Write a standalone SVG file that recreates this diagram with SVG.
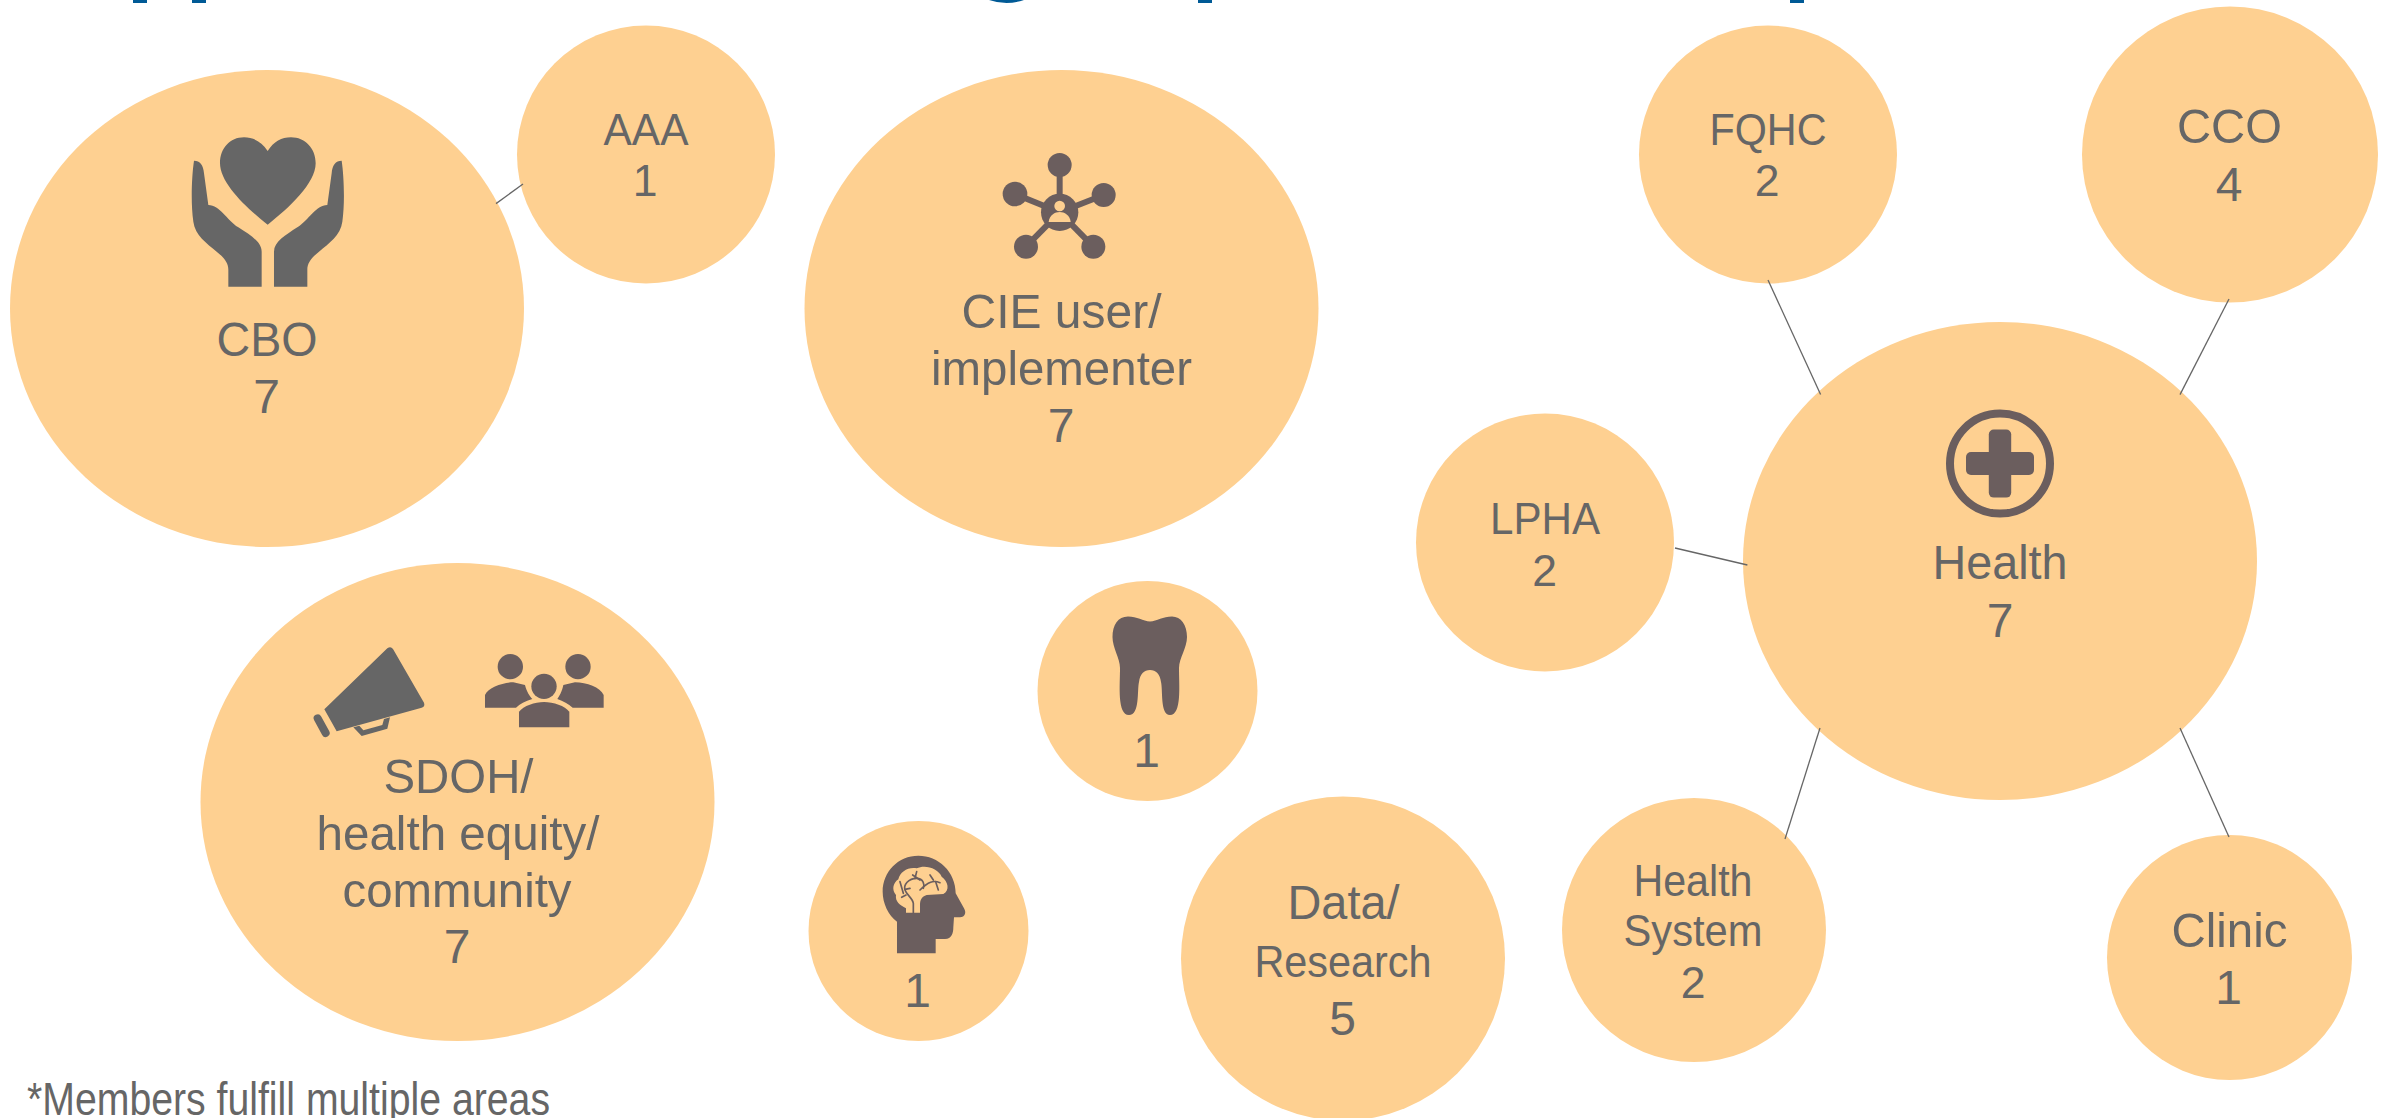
<svg xmlns="http://www.w3.org/2000/svg" width="2392" height="1118" viewBox="0 0 2392 1118">
<style>
.n{fill:#FED091}
text{font-family:"Liberation Sans",Arial,sans-serif;fill:#666666;text-anchor:middle}
.b{font-size:49px}
.d{font-size:48px}
.s{font-size:44.500px}
.f{font-size:46px}
.g{fill:#666666}
.br{fill:#6B5E5E}
.c{fill:#FED091}
.ln{stroke:#666666;stroke-width:1.300;fill:none}
</style>
<rect width="2392" height="1118" fill="#FFFFFF"/>
<g id="title-clip" fill="#005A96">
<rect x="133" y="0" width="14" height="3"/>
<rect x="192" y="0" width="14" height="3"/>
<path d="M989,0 Q1006.500,6 1024,0 Z"/>
<rect x="1198" y="0" width="14" height="3"/>
<rect x="1790" y="0" width="14" height="3"/>
</g>
<g id="node-cbo">
<ellipse class="n" cx="267" cy="308.500" rx="257" ry="238.500"/>
<g transform="translate(170,120) scale(0.33333)" class="g">
<path d="M293,93 C275,65 250,52 222,52 C180,52 150,85 150,130 C150,190 230,265 293,314 C356,265 437,190 437,130 C437,85 405,52 363,52 C335,52 311,65 293,93 Z"/>
<path d="M72,122 C65,170 62,250 70,305 C75,345 110,370 140,395 C165,415 175,430 175,450 L175,500 L275,500 L275,395 C275,365 240,345 205,322 C170,300 150,255 115,255 L102,160 C100,135 90,122 72,122 Z"/>
<path d="M515,122 C522,170 525,250 517,305 C512,345 477,370 447,395 C422,415 412,430 412,450 L412,500 L312,500 L312,395 C312,365 347,345 382,322 C417,300 437,255 472,255 L485,160 C487,135 497,122 515,122 Z"/>
</g>
<text class="b" x="267" y="356" textLength="101" lengthAdjust="spacingAndGlyphs">CBO</text>
<text class="d" x="266.500" y="412.500">7</text>
</g>
<g id="node-aaa">
<circle class="n" cx="646" cy="154.500" r="129"/>
<text class="s" x="646" y="144.600" textLength="85" lengthAdjust="spacingAndGlyphs">AAA</text>
<text class="s" x="645" y="195.700">1</text>
</g>
<g id="node-cie">
<ellipse class="n" cx="1061.500" cy="308.500" rx="257" ry="238.500"/>
<g transform="translate(990,140) scale(0.33333)" class="br">
<g stroke="#6B5E5E" stroke-width="18">
<line x1="209" y1="217" x2="209" y2="75"/>
<line x1="209" y1="217" x2="75" y2="162"/>
<line x1="209" y1="217" x2="341" y2="165"/>
<line x1="209" y1="217" x2="108" y2="320"/>
<line x1="209" y1="217" x2="310" y2="320"/>
</g>
<circle cx="209" cy="217" r="56"/>
<circle cx="209" cy="75" r="36"/>
<circle cx="75" cy="162" r="37"/>
<circle cx="341" cy="165" r="36"/>
<circle cx="108" cy="320" r="36"/>
<circle cx="310" cy="320" r="36"/>
<circle class="c" cx="209" cy="198" r="16"/>
<path class="c" d="M176,246 C178,225 195,216 209,216 C223,216 240,225 242,246 Z"/>
</g>
<text class="b" x="1061.500" y="327.500" textLength="200" lengthAdjust="spacingAndGlyphs">CIE user/</text>
<text class="b" x="1061.500" y="384.500" textLength="261" lengthAdjust="spacingAndGlyphs">implementer</text>
<text class="d" x="1061" y="442">7</text>
</g>
<g id="node-fqhc">
<circle class="n" cx="1768" cy="154.500" r="129"/>
<text class="s" x="1768" y="144.600" textLength="117" lengthAdjust="spacingAndGlyphs">FQHC</text>
<text class="s" x="1767" y="195.700">2</text>
</g>
<g id="node-cco">
<circle class="n" cx="2230" cy="154.500" r="148"/>
<text class="b" x="2229.500" y="143" textLength="105" lengthAdjust="spacingAndGlyphs">CCO</text>
<text class="d" x="2229" y="200.700">4</text>
</g>
<g id="node-health">
<ellipse class="n" cx="2000" cy="561" rx="257" ry="239"/>
<g class="br">
<circle cx="2000" cy="463.600" r="50" fill="none" stroke="#6B5E5E" stroke-width="8"/>
<rect x="1988.800" y="429.600" width="22.400" height="68" rx="5"/>
<rect x="1966" y="452" width="68" height="23" rx="5"/>
</g>
<text class="b" x="2000" y="578.700" textLength="135" lengthAdjust="spacingAndGlyphs">Health</text>
<text class="d" x="2000" y="636.600">7</text>
</g>
<g id="node-lpha">
<circle class="n" cx="1545" cy="542.500" r="129"/>
<text class="s" x="1545" y="533.500" textLength="110" lengthAdjust="spacingAndGlyphs">LPHA</text>
<text class="s" x="1544.500" y="585.500">2</text>
</g>
<g id="node-sdoh">
<ellipse class="n" cx="457.500" cy="802" rx="257" ry="239"/>
<g transform="translate(300,630) scale(0.33333)">
<g class="g">
<path d="M73,238 L262,55 Q272,47 279,57 L372,218 Q376,230 365,233 L110,304 Z"/>
<path fill-rule="evenodd" d="M160,292 L185,318 L262,296 L270,262 L252,267 L247,285 L190,301 L178,287 Z"/>
<line x1="53" y1="265" x2="77" y2="309" stroke="#666666" stroke-width="24" stroke-linecap="round"/>
</g>
<g class="br">
<circle cx="631" cy="110" r="38"/>
<circle cx="834" cy="110" r="38"/>
<circle cx="732" cy="169" r="38"/>
<path d="M555,233 L555,195 C565,172 610,157 640,157 L675,165 C680,185 690,200 697,207 C675,213 660,222 648,233 Z"/>
<path d="M911,233 L911,195 C901,172 860,157 825,157 L790,165 C786,185 777,200 772,207 C790,213 805,222 818,233 Z"/>
<path d="M657,292 L657,245 C670,228 705,216 732,216 C760,216 795,228 808,245 L808,292 Z"/>
</g>
</g>
<text class="b" x="458.500" y="793" textLength="150" lengthAdjust="spacingAndGlyphs">SDOH/</text>
<text class="b" x="458" y="850" textLength="283" lengthAdjust="spacingAndGlyphs">health equity/</text>
<text class="b" x="457" y="907" textLength="229" lengthAdjust="spacingAndGlyphs">community</text>
<text class="d" x="457" y="963.400">7</text>
</g>
<g id="node-dental">
<circle class="n" cx="1147.500" cy="691" r="110"/>
<path class="br" d="M1150,621.600 C1143,621 1137,616.500 1128,616.500 C1118,616.500 1112.500,625 1112.500,637 C1112.500,648 1120,658 1120,668 C1120,685 1117,715 1129,715 C1140,715 1137,690 1139,682 C1140,674 1144,670 1150,670 C1156,670 1160,674 1161,682 C1163,690 1160,715 1170,715 C1182,715 1179,685 1179,668 C1179,658 1187,648 1187,637 C1187,625 1181,616.500 1172,616.500 C1163,616.500 1157,621 1150,621.600 Z"/>
<text class="d" x="1146.500" y="766.600">1</text>
</g>
<g id="node-behavioral">
<circle class="n" cx="918.500" cy="931" r="110"/>
<g transform="translate(870,840) scale(0.33333)">
<path class="br" d="M81,340 L197,340 L197,297 L225,297 C245,297 250,280 250,262 L252,232 L270,232 C285,232 290,218 282,205 L257,160 C257,95 205,47 145,47 C85,47 38,95 38,155 C38,190 55,225 81,245 Z"/>
<path class="c" d="M108,218 L108,205 C90,195 75,185 78,165 C65,150 68,130 85,118 C90,95 115,80 140,85 C165,72 205,85 215,110 C235,125 240,150 220,162 L170,165 C155,170 150,180 150,195 L150,218 Z"/>
<g fill="none" stroke="#6B5E5E" stroke-width="5" stroke-linecap="round">
<path d="M130,218 L130,190 C128,175 110,165 105,150 C100,135 115,115 140,115 C160,115 165,135 160,145"/>
<path d="M90,125 L100,160"/>
<path d="M105,148 L120,145"/>
<path d="M95,172 L108,165"/>
<path d="M140,95 L135,115"/>
<path d="M150,150 C175,125 190,120 210,128"/>
<path d="M180,105 L190,120"/>
<path d="M205,150 L197,125"/>
<path d="M150,120 L128,105"/>
</g>
</g>
<text class="d" x="917.500" y="1006.600">1</text>
</g>
<g id="node-data">
<circle class="n" cx="1343" cy="958.600" r="162"/>
<text class="b" x="1343.500" y="918.700" textLength="112" lengthAdjust="spacingAndGlyphs">Data/</text>
<text class="s" x="1343" y="976.600" textLength="177" lengthAdjust="spacingAndGlyphs">Research</text>
<text class="d" x="1342.500" y="1035">5</text>
</g>
<g id="node-health-system">
<circle class="n" cx="1694" cy="930" r="132"/>
<text class="s" x="1693" y="895.500" textLength="119" lengthAdjust="spacingAndGlyphs">Health</text>
<text class="s" x="1693" y="945.500" textLength="139" lengthAdjust="spacingAndGlyphs">System</text>
<text class="s" x="1693" y="997.500">2</text>
</g>
<g id="node-clinic">
<circle class="n" cx="2229.500" cy="957.500" r="122.500"/>
<text class="b" x="2229.500" y="947" textLength="116" lengthAdjust="spacingAndGlyphs">Clinic</text>
<text class="d" x="2228.500" y="1004.400">1</text>
</g>
<g id="connectors" class="ln">
<line x1="496" y1="203.600" x2="523" y2="184"/>
<line x1="1768" y1="280" x2="1820.600" y2="394.600"/>
<line x1="2229" y1="299" x2="2180" y2="394.600"/>
<line x1="1675" y1="548" x2="1747.400" y2="565"/>
<line x1="1820" y1="728" x2="1785" y2="839"/>
<line x1="2180" y1="728" x2="2229" y2="837"/>
</g>
<text id="footnote" class="f" x="288.500" y="1115" textLength="523" lengthAdjust="spacingAndGlyphs">*Members fulfill multiple areas</text>
</svg>
